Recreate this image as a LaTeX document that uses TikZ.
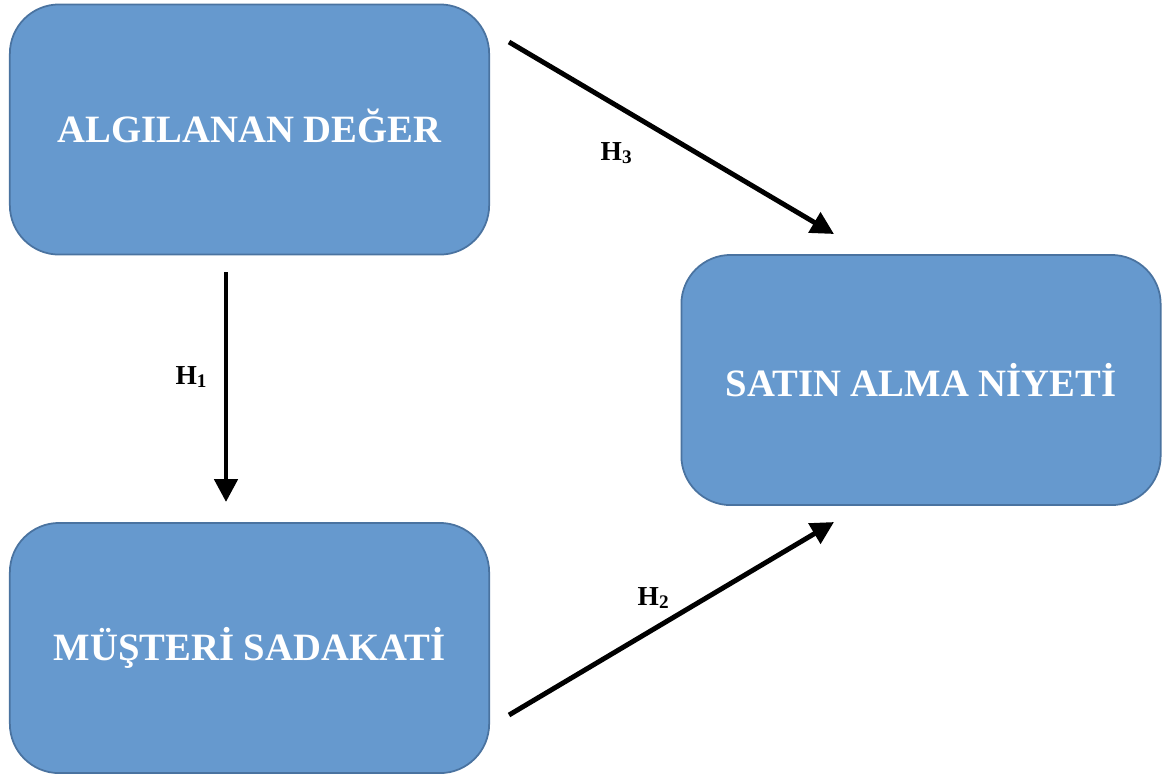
\documentclass[tikz,border=0pt]{standalone}
\usepackage{fontspec}
\setmainfont{Liberation Serif}
\usetikzlibrary{arrows.meta}
\definecolor{boxfill}{HTML}{6699CE}
\definecolor{boxline}{HTML}{4A73A0}
\tikzset{
  box/.style={draw=boxline, line width=0.5pt, fill=boxfill, rounded corners=14pt,
    minimum width=4.79cm, minimum height=2.5cm, text=white,
    font=\fontsize{11}{13}\selectfont\bfseries, inner sep=0pt},
  conn/.style={line width=1.4pt, -{Triangle[length=6.5pt,width=6.5pt]}},
  hlab/.style={font=\fontsize{7.8}{9}\selectfont\bfseries, inner sep=0pt}
}
\begin{document}
\begin{tikzpicture}[x=0.01cm,y=-0.01cm]
\useasboundingbox (0,0) rectangle (1165,778);
\node[box] (ad) at (249.5,129.5) {\raisebox{2pt}{ALGILANAN DEĞER}};
\node[box] (ms) at (249.5,648) {MÜŞTERİ SADAKATİ};
\node[box] (sa) at (921,380) {SATIN ALMA NİYETİ};
\coordinate (a1) at (226,272);
\coordinate (a2) at (226,502);
\coordinate (b1) at (509,42);
\coordinate (b2) at (834,234);
\coordinate (c1) at (509,715);
\coordinate (c2) at (834,522);
\draw[conn] (a1) -- (a2);
\draw[conn] (b1) -- (b2);
\draw[conn] (c1) -- (c2);
\node[hlab] (h1) at (192,377) {H\textsubscript{1}};
\node[hlab] (h3) at (617,153) {H\textsubscript{3}};
\node[hlab] (h2) at (654,598) {H\textsubscript{2}};
\end{tikzpicture}
\end{document}
